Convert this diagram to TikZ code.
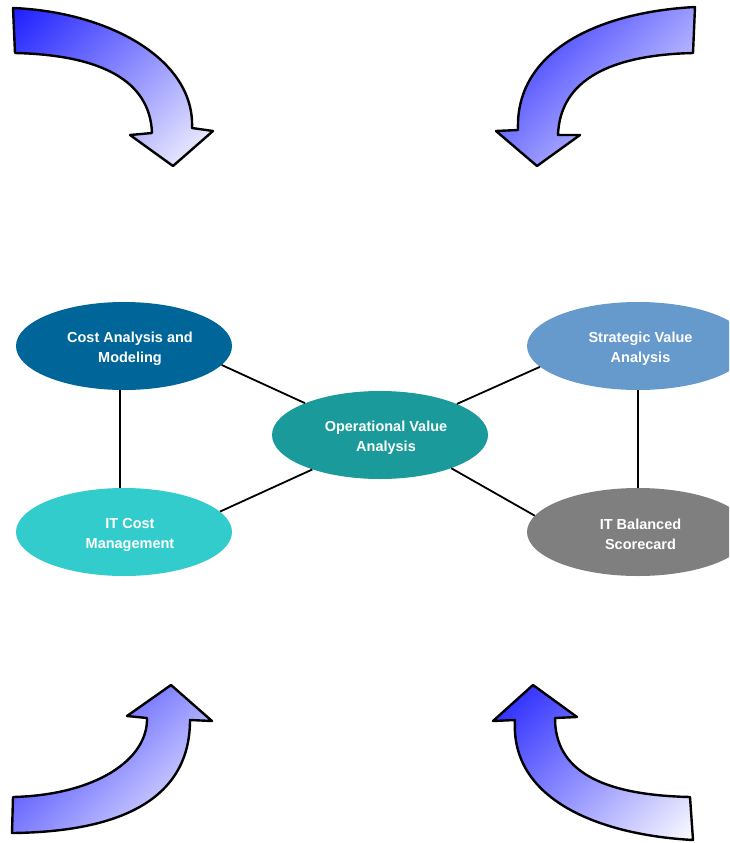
\documentclass[tikz,border=0pt]{standalone}
\usepackage{fontspec}
\setmainfont{Liberation Sans}
\usetikzlibrary{shapes.geometric}
\definecolor{costc}{RGB}{0,102,153}
\definecolor{stratc}{RGB}{102,153,204}
\definecolor{operc}{RGB}{26,154,154}
\definecolor{itcostc}{RGB}{51,204,204}
\definecolor{balc}{RGB}{127,127,127}
\definecolor{arrowblue}{RGB}{30,30,255}
\definecolor{arrowwhite}{RGB}{252,252,255}
\pgfdeclareverticalshading{arrowshade}{100bp}{color(0bp)=(arrowwhite); color(14.6bp)=(arrowwhite); color(85.4bp)=(arrowblue); color(100bp)=(arrowblue)}
\tikzset{
  oval/.style={ellipse, minimum width=216pt, minimum height=88pt, inner sep=0pt},
  ovaltext/.style={text=white, font=\bfseries\fontsize{14.5}{20}\selectfont, align=center, inner sep=0pt, yshift=-2.5pt},
  link/.style={draw=black, line width=1.8pt},
  bentarrow/.style={draw=black, line width=2.4pt, line join=round,
    shading=arrowshade, shading angle=45}
}
\begin{document}
\begin{tikzpicture}[x=1pt,y=-1pt]
\useasboundingbox (0,0) rectangle (729,843);
\clip (0,0) rectangle (729,843);
% nodes
\node[oval, fill=costc, label={[ovaltext, xshift=6pt]center:Cost Analysis and\\Modeling}] (cost) at (124,346) {};
\node[oval, fill=stratc, minimum width=222pt, label={[ovaltext, xshift=2.5pt]center:Strategic Value\\Analysis}] (strat) at (638,346) {};
\node[oval, fill=operc, label={[ovaltext, xshift=6pt]center:Operational Value\\Analysis}] (oper) at (380,435) {};
\node[oval, fill=itcostc, label={[ovaltext, xshift=6pt]center:IT Cost\\Management}] (itc) at (124,532) {};
\node[oval, fill=balc, minimum width=222pt, label={[ovaltext, xshift=2.5pt]center:IT Balanced\\Scorecard}] (bal) at (638,532) {};
% connectors
\draw[link] (cost.-11) -- (oper.157);
\draw[link] (strat.192) -- (oper.22);
\draw[link] (itc.12) -- (oper.207);
\draw[link] (bal.171) -- (oper.-25);
\draw[link] (cost.south -| 120,0) -- (itc.north -| 120,0);
\draw[link] (strat.south -| 638,0) -- (bal.north -| 638,0);
% arrow top-left
\path[bentarrow] (13,8) .. controls (110,12) and (195,60) .. (192,128)
  -- (213,131) -- (173,166) -- (130,135) -- (152,133)
  .. controls (150,80) and (100,55) .. (15,53) -- cycle;
% arrow top-right
\path[bentarrow] (695,7) .. controls (600,12) and (515,50) .. (518,130)
  -- (496,131) -- (537,166) -- (580,135) -- (558,135)
  .. controls (560,80) and (610,55) .. (693,53) -- cycle;
% arrow bottom-left
\path[bentarrow] (13,797) .. controls (95,795) and (148,760) .. (147,718)
  -- (127,716) -- (171,685) -- (212,721) -- (190,720)
  .. controls (190,805) and (110,832) .. (12,833) -- cycle;
% arrow bottom-right
\path[bentarrow] (515,720) .. controls (510,800) and (600,835) .. (693,840)
  -- (690,797) .. controls (600,795) and (555,770) .. (555,718)
  -- (577,717) -- (533,685) -- (493,721) -- cycle;
\end{tikzpicture}
\end{document}
